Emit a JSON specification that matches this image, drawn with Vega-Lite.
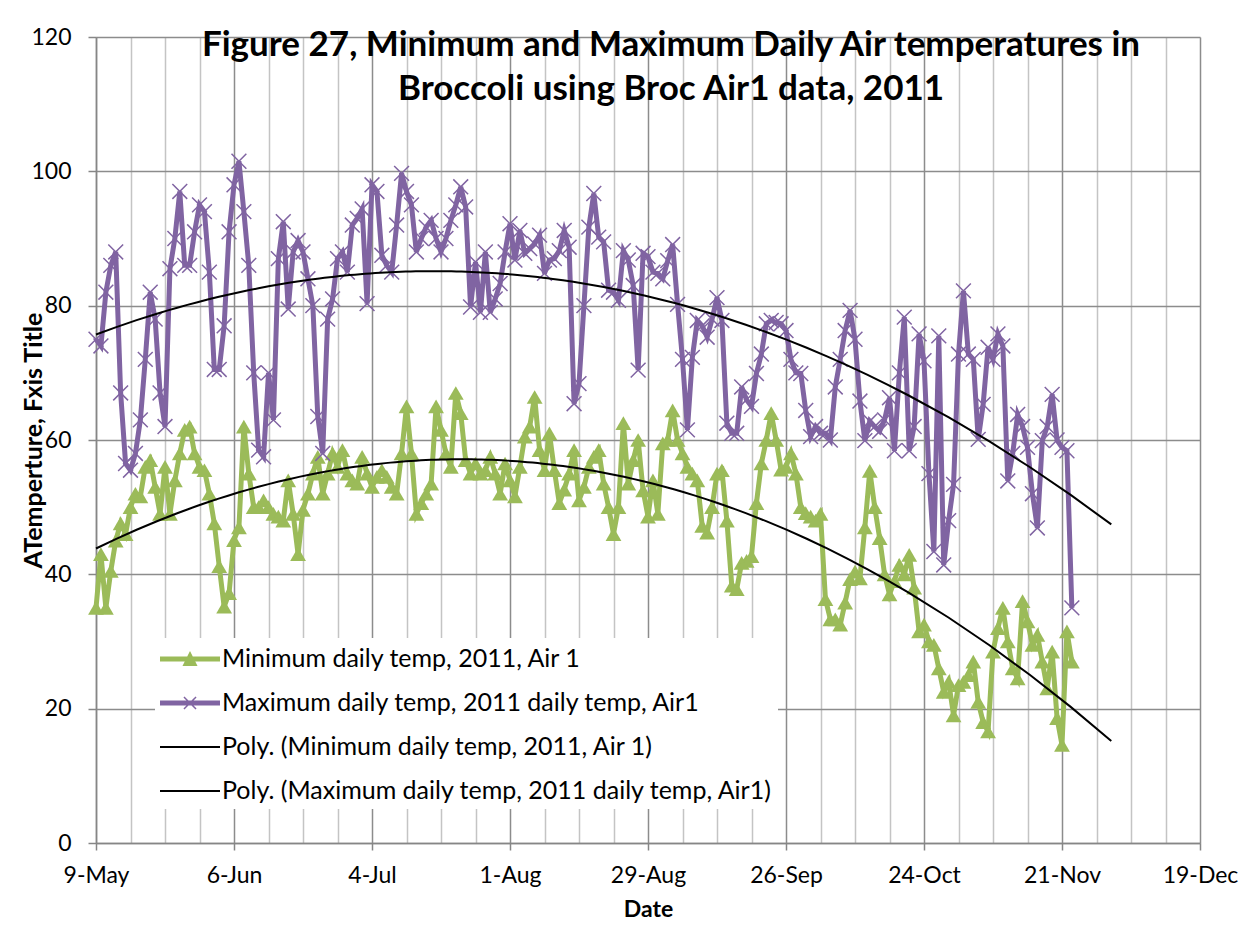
{
"$schema": "https://vega.github.io/schema/vega-lite/v6.json",
"width": 1104, "height": 806,
"autosize": "none",
"padding": {"left": 96, "top": 37, "right": 53, "bottom": 83},
"background": "white",
"config": {"font": "Lato", "view": {"stroke": null}},
"title": {"text": ["Figure 27, Minimum and Maximum Daily Air temperatures in", "Broccoli using Broc Air1 data, 2011"], "fontSize": 35, "fontWeight": "bold", "color": "black", "anchor": "middle", "baseline": "top", "offset": -81, "dx": 23, "lineHeight": 44},
"data": {"format": {"parse": {"date": "date"}}, "values": [
{"date":"2011-05-09","min":35,"max":75},{"date":"2011-05-10","min":43,"max":74},{"date":"2011-05-11","min":35,"max":82},{"date":"2011-05-12","min":40.5,"max":86},{"date":"2011-05-13","min":45,"max":88},{"date":"2011-05-14","min":47.6,"max":67},{"date":"2011-05-15","min":46,"max":56.5},{"date":"2011-05-16","min":50,"max":55.5},{"date":"2011-05-17","min":52,"max":58},{"date":"2011-05-18","min":51.6,"max":63},{"date":"2011-05-19","min":56,"max":72},{"date":"2011-05-20","min":57,"max":82},{"date":"2011-05-21","min":53,"max":78},{"date":"2011-05-22","min":49,"max":67},{"date":"2011-05-23","min":56,"max":62},{"date":"2011-05-24","min":49,"max":85.5},{"date":"2011-05-25","min":54,"max":90},{"date":"2011-05-26","min":58,"max":97},{"date":"2011-05-27","min":61.5,"max":86},{"date":"2011-05-28","min":62,"max":86},{"date":"2011-05-29","min":58,"max":91},{"date":"2011-05-30","min":56,"max":95},{"date":"2011-05-31","min":55.5,"max":94},
{"date":"2011-06-01","min":52,"max":85},{"date":"2011-06-02","min":47.6,"max":70.5},{"date":"2011-06-03","min":41.2,"max":70.5},{"date":"2011-06-04","min":35.2,"max":77},{"date":"2011-06-05","min":37.2,"max":91},{"date":"2011-06-06","min":45.1,"max":98},{"date":"2011-06-07","min":47,"max":101.5},{"date":"2011-06-08","min":62,"max":94},{"date":"2011-06-09","min":55,"max":86},{"date":"2011-06-10","min":50,"max":70},{"date":"2011-06-11","min":50,"max":58.5},{"date":"2011-06-12","min":51,"max":57.5},{"date":"2011-06-13","min":50,"max":70},{"date":"2011-06-14","min":49,"max":63},{"date":"2011-06-15","min":48.6,"max":87},{"date":"2011-06-16","min":48,"max":92.5},{"date":"2011-06-17","min":54,"max":79.5},{"date":"2011-06-18","min":49,"max":88},{"date":"2011-06-19","min":43,"max":89.7},{"date":"2011-06-20","min":49.6,"max":88},{"date":"2011-06-21","min":52,"max":84},{"date":"2011-06-22","min":55,"max":80},{"date":"2011-06-23","min":57.5,"max":63.5},{"date":"2011-06-24","min":52,"max":58},{"date":"2011-06-25","min":55,"max":78},{"date":"2011-06-26","min":58,"max":81},{"date":"2011-06-27","min":56,"max":87},{"date":"2011-06-28","min":58.5,"max":88},{"date":"2011-06-29","min":55,"max":85},{"date":"2011-06-30","min":54,"max":92},
{"date":"2011-07-01","min":53.5,"max":93},{"date":"2011-07-02","min":57.5,"max":94.4},{"date":"2011-07-03","min":55,"max":80.3},{"date":"2011-07-04","min":53,"max":98},{"date":"2011-07-05","min":54.5,"max":97},{"date":"2011-07-06","min":55.5,"max":87.5},{"date":"2011-07-07","min":54.5,"max":86},{"date":"2011-07-08","min":53,"max":85},{"date":"2011-07-09","min":52,"max":92},{"date":"2011-07-10","min":58,"max":99.7},{"date":"2011-07-11","min":65,"max":97},{"date":"2011-07-12","min":58,"max":95},{"date":"2011-07-13","min":49,"max":88},{"date":"2011-07-14","min":50.6,"max":90},{"date":"2011-07-15","min":52,"max":91.7},{"date":"2011-07-16","min":53.5,"max":92.7},{"date":"2011-07-17","min":65,"max":90},{"date":"2011-07-18","min":61.5,"max":88},{"date":"2011-07-19","min":58,"max":90},{"date":"2011-07-20","min":56,"max":92.7},{"date":"2011-07-21","min":67,"max":95},{"date":"2011-07-22","min":64,"max":97.7},{"date":"2011-07-23","min":57,"max":94.7},{"date":"2011-07-24","min":55,"max":79.8},{"date":"2011-07-25","min":56.5,"max":86.5},{"date":"2011-07-26","min":55,"max":79},{"date":"2011-07-27","min":55.5,"max":88},{"date":"2011-07-28","min":57.5,"max":79},{"date":"2011-07-29","min":55,"max":81},{"date":"2011-07-30","min":52,"max":83.3},{"date":"2011-07-31","min":56.5,"max":88},
{"date":"2011-08-01","min":54,"max":92.2},{"date":"2011-08-02","min":51.6,"max":86.8},{"date":"2011-08-03","min":56,"max":91.2},{"date":"2011-08-04","min":60.5,"max":87.8},{"date":"2011-08-05","min":62,"max":88.5},{"date":"2011-08-06","min":66.4,"max":89.2},{"date":"2011-08-07","min":58.5,"max":90.5},{"date":"2011-08-08","min":55.5,"max":84.8},{"date":"2011-08-09","min":61,"max":86.8},{"date":"2011-08-10","min":55.5,"max":87},{"date":"2011-08-11","min":50.6,"max":88.2},{"date":"2011-08-12","min":52.6,"max":91.2},{"date":"2011-08-13","min":55,"max":88.7},{"date":"2011-08-14","min":58.5,"max":65.4},{"date":"2011-08-15","min":51,"max":68.4},{"date":"2011-08-16","min":53,"max":80},{"date":"2011-08-17","min":56,"max":91.7},{"date":"2011-08-18","min":57.5,"max":96.7},{"date":"2011-08-19","min":58.5,"max":90.2},{"date":"2011-08-20","min":53.5,"max":89.5},{"date":"2011-08-21","min":50,"max":82.3},{"date":"2011-08-22","min":46,"max":82},{"date":"2011-08-23","min":50,"max":80.8},{"date":"2011-08-24","min":62.5,"max":88.2},{"date":"2011-08-25","min":53.5,"max":86.8},{"date":"2011-08-26","min":57,"max":83},{"date":"2011-08-27","min":60,"max":70.4},{"date":"2011-08-28","min":52.5,"max":87.8},{"date":"2011-08-29","min":48.6,"max":87.3},{"date":"2011-08-30","min":54,"max":85},{"date":"2011-08-31","min":49,"max":84.8},
{"date":"2011-09-01","min":59.5,"max":84},{"date":"2011-09-02","min":60,"max":86.7},{"date":"2011-09-03","min":64.4,"max":89.1},{"date":"2011-09-04","min":60,"max":80.2},{"date":"2011-09-05","min":58,"max":72},{"date":"2011-09-06","min":56,"max":61.5},{"date":"2011-09-07","min":55,"max":72.3},{"date":"2011-09-08","min":54,"max":77.8},{"date":"2011-09-09","min":47.2,"max":77},{"date":"2011-09-10","min":46.2,"max":75.3},{"date":"2011-09-11","min":50,"max":78},{"date":"2011-09-12","min":55,"max":81.2},{"date":"2011-09-13","min":55.5,"max":77.8},{"date":"2011-09-14","min":48,"max":62.5},{"date":"2011-09-15","min":38.3,"max":61},{"date":"2011-09-16","min":37.8,"max":61},{"date":"2011-09-17","min":41.7,"max":67.9},{"date":"2011-09-18","min":42,"max":66},{"date":"2011-09-19","min":42.7,"max":65},{"date":"2011-09-20","min":50.6,"max":69.9},{"date":"2011-09-21","min":56.5,"max":72.8},{"date":"2011-09-22","min":60,"max":77.3},{"date":"2011-09-23","min":64,"max":77.8},{"date":"2011-09-24","min":60,"max":77.5},{"date":"2011-09-25","min":55.6,"max":77.3},{"date":"2011-09-26","min":56,"max":76.3},{"date":"2011-09-27","min":58,"max":72},{"date":"2011-09-28","min":55,"max":70},{"date":"2011-09-29","min":50,"max":69.9},{"date":"2011-09-30","min":49.1,"max":64.4},
{"date":"2011-10-01","min":48.6,"max":60.5},{"date":"2011-10-02","min":48,"max":62},{"date":"2011-10-03","min":49,"max":61},{"date":"2011-10-04","min":36.3,"max":61},{"date":"2011-10-05","min":33.3,"max":60},{"date":"2011-10-06","min":33.3,"max":67.9},{"date":"2011-10-07","min":32.5,"max":72},{"date":"2011-10-08","min":35.8,"max":76.3},{"date":"2011-10-09","min":39.3,"max":79.3},{"date":"2011-10-10","min":40.4,"max":75},{"date":"2011-10-11","min":39.4,"max":65.8},{"date":"2011-10-12","min":47,"max":59.9},{"date":"2011-10-13","min":55.4,"max":62.8},{"date":"2011-10-14","min":50,"max":62},{"date":"2011-10-15","min":45.4,"max":61.3},{"date":"2011-10-16","min":40,"max":63},{"date":"2011-10-17","min":37,"max":66.3},{"date":"2011-10-18","min":39,"max":58.4},{"date":"2011-10-19","min":41.4,"max":70},{"date":"2011-10-20","min":40,"max":78.3},{"date":"2011-10-21","min":42.9,"max":58.4},{"date":"2011-10-22","min":38,"max":62},{"date":"2011-10-23","min":31.5,"max":75.8},{"date":"2011-10-24","min":32.5,"max":71.8},{"date":"2011-10-25","min":30,"max":55},{"date":"2011-10-26","min":29.5,"max":43.4},{"date":"2011-10-27","min":26,"max":75.5},{"date":"2011-10-28","min":22.5,"max":41.4},{"date":"2011-10-29","min":24,"max":48},{"date":"2011-10-30","min":19,"max":53.4},{"date":"2011-10-31","min":23.5,"max":72.8},
{"date":"2011-11-01","min":24,"max":82.2},{"date":"2011-11-02","min":25,"max":72.8},{"date":"2011-11-03","min":27,"max":72},{"date":"2011-11-04","min":21,"max":60.1},{"date":"2011-11-05","min":18,"max":65.3},{"date":"2011-11-06","min":16.6,"max":73.8},{"date":"2011-11-07","min":28.5,"max":72},{"date":"2011-11-08","min":32,"max":75.8},{"date":"2011-11-09","min":35,"max":74},{"date":"2011-11-10","min":30,"max":53.9},{"date":"2011-11-11","min":26,"max":58},{"date":"2011-11-12","min":24.5,"max":63.8},{"date":"2011-11-13","min":36,"max":62},{"date":"2011-11-14","min":33,"max":58.9},{"date":"2011-11-15","min":29.5,"max":52},{"date":"2011-11-16","min":31,"max":46.9},{"date":"2011-11-17","min":27,"max":59.9},{"date":"2011-11-18","min":23,"max":62},{"date":"2011-11-19","min":28.5,"max":66.8},{"date":"2011-11-20","min":18.6,"max":60},{"date":"2011-11-21","min":14.6,"max":58.9},{"date":"2011-11-22","min":31.5,"max":58.4},{"date":"2011-11-23","min":27,"max":35}
]},
"encoding": {
  "x": {"field": "date", "type": "temporal",
    "scale": {"type": "utc", "domain": [1304899200000, 1324252800000]},
    "axis": {
      "title": "Date", "titleFontSize": 23, "titleFontWeight": "bold", "titleColor": "black", "titlePadding": 11,
      "values": [1304899200000,1305504000000,1306108800000,1306713600000,1307318400000,1307923200000,1308528000000,1309132800000,1309737600000,1310342400000,1310947200000,1311552000000,1312156800000,1312761600000,1313366400000,1313971200000,1314576000000,1315180800000,1315785600000,1316390400000,1316995200000,1317600000000,1318204800000,1318809600000,1319414400000,1320019200000,1320624000000,1321228800000,1321833600000,1322438400000,1323043200000,1323648000000,1324252800000],
      "labelExpr": "round((datum.value - 1304899200000) / 86400000) % 28 == 0 ? utcFormat(datum.value, '%-d-%b') : ''",
      "labelFontSize": 23, "labelColor": "black", "labelPadding": 14, "labelFlush": false, "labelOverlap": false, "labelBound": false,
      "grid": true,
      "gridColor": {"condition": {"test": "round((datum.value - 1304899200000) / 86400000) % 28 == 0", "value": "#8C8C8C"}, "value": "#C4C4C4"},
      "gridWidth": 1.5,
      "tickSize": 7, "tickColor": "#868686", "tickWidth": 1.5,
      "tickOpacity": {"condition": {"test": "round((datum.value - 1304899200000) / 86400000) % 28 == 0", "value": 1}, "value": 0},
      "domainColor": "#868686", "domainWidth": 1.5
    }
  }
},
"layer": [
  {
    "mark": {"type": "line", "strokeWidth": 5, "point": {"shape": "triangle-up", "filled": true, "size": 250, "opacity": 1}},
    "encoding": {
      "y": {"field": "min", "type": "quantitative",
        "scale": {"domain": [0, 120], "nice": false},
        "axis": {"title": "ATemperture, Fxis Title", "titleFontSize": 25, "titleFontWeight": "bold", "titleColor": "black", "titlePadding": -16,
          "values": [0, 20, 40, 60, 80, 100, 120], "labelFontSize": 23, "labelColor": "black", "labelPadding": 17,
          "grid": true, "gridColor": "#8C8C8C", "gridWidth": 1.5, "tickSize": 8, "tickColor": "#868686", "tickWidth": 1.5,
          "domainColor": "#868686", "domainWidth": 1.5}},
      "color": {"datum": "Minimum daily temp, 2011, Air 1", "type": "nominal",
        "scale": {"domain": ["Minimum daily temp, 2011, Air 1", "Maximum daily temp, 2011 daily temp, Air1", "Poly. (Minimum daily temp, 2011, Air 1)", "Poly. (Maximum daily temp, 2011 daily temp, Air1)"],
                  "range": ["#9BBB59", "#8064A2", "#000000", "#000000"]},
        "legend": {"orient": "none", "legendX": 59, "legendY": 601, "title": null, "fillColor": "white",
          "padding": 5, "labelFontSize": 25, "labelColor": "black", "labelLimit": 1000, "labelOffset": 30,
          "symbolSize": 1024, "rowPadding": 15,
          "encode": {"symbols": {"update": {
            "shape": {"signal": "indexof(datum.value, 'Poly') == 0 ? 'M-1,-0.0625H2.75V0.0625H-1Z' : indexof(datum.value, 'Minimum') == 0 ? 'M-1,-0.156H2.75V0.156H-1Z M0.875,-0.5L1.345,0.44H0.405Z' : 'M-1,-0.156H2.75V0.156H-1Z M0.465,-0.344L0.531,-0.41L0.875,-0.066L1.219,-0.41L1.285,-0.344L0.941,0L1.285,0.344L1.219,0.41L0.875,0.066L0.531,0.41L0.465,0.344L0.809,0Z'"},
            "fill": {"signal": "scale('color', datum.value)"},
            "fillOpacity": {"value": 1}, "opacity": {"value": 1},
            "stroke": {"value": "transparent"}, "strokeWidth": {"value": 0}
          }}}}
      }
    }
  },
  {
    "mark": {"type": "line", "strokeWidth": 5, "point": {"shape": "M-1,-1L1,1M-1,1L1,-1", "filled": false, "strokeWidth": 1.5, "size": 220, "opacity": 1}},
    "encoding": {
      "y": {"field": "max", "type": "quantitative"},
      "color": {"datum": "Maximum daily temp, 2011 daily temp, Air1", "type": "nominal"}
    }
  },
  {
    "transform": [{"regression": "min", "on": "date", "method": "poly", "order": 2, "extent": [1304899200000, 1322697600000]}],
    "mark": {"type": "line", "strokeWidth": 2},
    "encoding": {
      "y": {"field": "min", "type": "quantitative"},
      "color": {"datum": "Poly. (Minimum daily temp, 2011, Air 1)", "type": "nominal"}
    }
  },
  {
    "transform": [{"regression": "max", "on": "date", "method": "poly", "order": 2, "extent": [1304899200000, 1322697600000]}],
    "mark": {"type": "line", "strokeWidth": 2},
    "encoding": {
      "y": {"field": "max", "type": "quantitative"},
      "color": {"datum": "Poly. (Maximum daily temp, 2011 daily temp, Air1)", "type": "nominal"}
    }
  }
]
}
